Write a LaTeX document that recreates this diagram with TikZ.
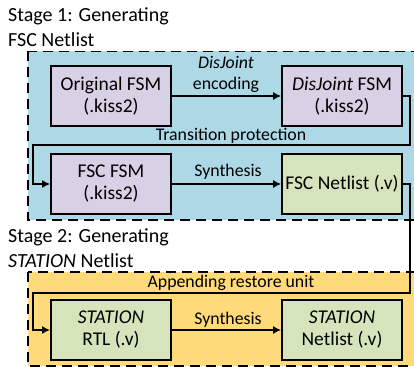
\documentclass[tikz,border=0pt]{standalone}
\usepackage{fontspec}
\setmainfont{Carlito}
\usetikzlibrary{arrows.meta}
\definecolor{bluebg}{RGB}{173,216,230}
\definecolor{yellowbg}{RGB}{255,218,122}
\definecolor{purplebox}{RGB}{216,208,228}
\definecolor{greenbox}{RGB}{214,228,188}
\tikzset{
  box/.style={draw=black, line width=1.8pt, minimum width=120pt, minimum height=60pt, inner sep=1pt, align=center, font=\fontsize{19.5}{22}\selectfont},
  purple/.style={box, fill=purplebox},
  green/.style={box, fill=greenbox},
  stage/.style={draw=black, line width=1.8pt, dash pattern=on 10pt off 6pt},
  conn/.style={draw=black, line width=1.4pt, -{Latex[length=8pt,width=8pt]}},
  lbl/.style={inner sep=0pt, font=\fontsize{17.8}{21}\selectfont, align=center},
  title/.style={inner sep=0pt, anchor=west, font=\fontsize{20}{23}\selectfont, align=left}
}
\begin{document}
\begin{tikzpicture}[x=1pt,y=-1pt]
\useasboundingbox (0,0) rectangle (414,366);
\clip (0,0) rectangle (414,366);
% stage backgrounds
\path[stage, fill=bluebg] (28,51.5) rectangle (424,220);
\path[stage, fill=yellowbg] (28,272) rectangle (424,366);
% titles
\node[title] (t1a) at (8,16) {Stage 1: Generating};
\node[title] (t1b) at (8,39.5) {FSC Netlist};
\node[title] (t2a) at (8,237) {Stage 2: Generating};
\node[title] (t2b) at (8,260.5) {\textit{STATION} Netlist};
% boxes
\node[purple] (orig) at (111,96) {Original FSM\\(.kiss2)};
\node[purple] (dj) at (342,96) {\textit{DisJoint} FSM\\(.kiss2)};
\node[purple] (fscfsm) at (111,184) {FSC FSM\\(.kiss2)};
\node[green] (fscnet) at (342,184) {FSC Netlist (.v)};
\node[green] (strtl) at (111,330) {\textit{STATION}\\RTL (.v)};
\node[green] (stnet) at (342,330) {\textit{STATION}\\Netlist (.v)};
% connectors
\draw[conn] (orig.east) -- (dj.west);
\node[lbl] (l1) at (226,74) {\textit{DisJoint}\\encoding};
\draw[conn] (dj.east) -- ++(7,0) coordinate (c1) |- (33,145) coordinate (c2) |- (fscfsm.west);
\node[lbl] (l2) at (231,136) {Transition protection};
\draw[conn] (fscfsm.east) -- (fscnet.west);
\node[lbl] (l3) at (228,172) {Synthesis};
\draw[conn] (fscnet.east) -- ++(7,0) coordinate (c3) |- (33,293) coordinate (c4) |- (strtl.west);
\node[lbl] (l4) at (231,283) {Appending restore unit};
\draw[conn] (strtl.east) -- (stnet.west);
\node[lbl] (l5) at (228,320) {Synthesis};
\end{tikzpicture}
\end{document}
